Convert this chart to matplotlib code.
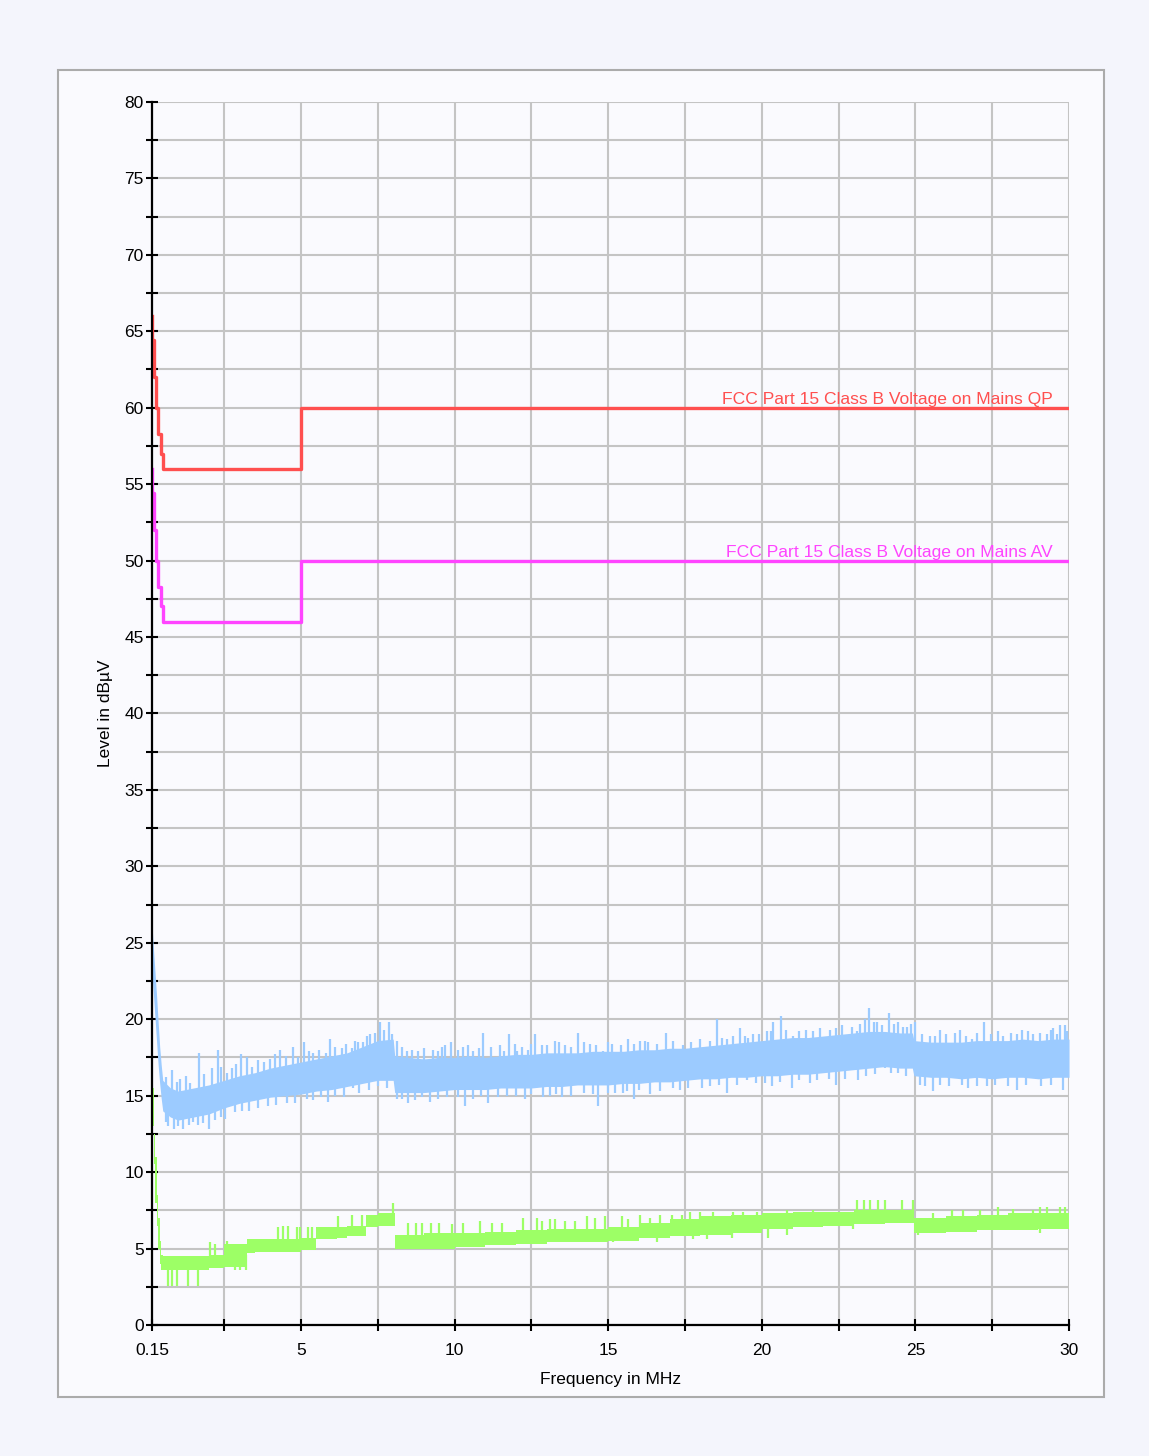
import numpy as np
import matplotlib.pyplot as plt
from matplotlib.patches import Rectangle
from matplotlib.ticker import MultipleLocator, FixedLocator, NullFormatter

plt.rcParams['font.family'] = ['Liberation Sans', 'DejaVu Sans']

# limit lines (step-post)
qp_f = [0.15, 0.16, 0.21, 0.28, 0.35, 0.43, 0.5, 5.0, 30.0]
qp_v = [66.0, 64.4, 62.0, 60.0, 58.3, 57.0, 56.0, 60.0, 60.0]
av_f = [0.15, 0.16, 0.21, 0.28, 0.35, 0.43, 0.5, 5.0, 30.0]
av_v = [56.0, 54.4, 52.0, 50.0, 48.3, 47.0, 46.0, 50.0, 50.0]

# peak trace (blue): body of the noise band
pk_f = [0.15, 0.2, 0.25, 0.3, 0.35, 0.4, 0.45, 0.5, 0.75, 1.0, 1.5, 2.0, 2.5, 3.0, 3.5,
        4.0, 4.5, 5.0, 5.5, 6.0, 6.5, 7.0, 7.5, 8.0, 8.05, 8.5, 9.0, 9.5, 10.0, 10.5, 11.0,
        11.5, 12.0, 12.5, 13.0, 13.5, 14.0, 14.5, 15.0, 15.5, 16.0, 16.5, 17.0, 17.5,
        18.0, 18.5, 19.0, 19.5, 20.0, 20.5, 21.0, 21.5, 22.0, 22.5, 23.0, 23.5, 24.0,
        24.5, 24.9, 24.95, 25.5, 26.0, 26.5, 27.0, 27.5, 28.0, 28.5, 29.0, 29.5, 30.0]
pk_lo = [23.0, 21.5, 20.0, 18.5, 17.0, 15.8, 14.8, 14.0, 13.6, 13.4, 13.6, 13.8, 14.2, 14.5, 14.7,
         14.9, 15.0, 15.1, 15.3, 15.4, 15.6, 15.8, 16.0, 16.0, 15.2, 15.2, 15.2, 15.3, 15.4, 15.4, 15.4,
         15.5, 15.5, 15.5, 15.6, 15.6, 15.7, 15.7, 15.7, 15.8, 15.8, 15.9, 15.9, 16.0,
         16.1, 16.1, 16.2, 16.2, 16.3, 16.3, 16.4, 16.4, 16.5, 16.6, 16.7, 16.8, 16.9,
         16.8, 16.8, 16.3, 16.2, 16.2, 16.1, 16.2, 16.1, 16.2, 16.2, 16.1, 16.2, 16.2]
pk_hi = [26.2, 24.5, 23.0, 21.5, 19.8, 18.2, 17.0, 16.0, 15.5, 15.3, 15.5, 15.7, 16.0, 16.3, 16.5,
         16.8, 17.0, 17.2, 17.4, 17.6, 17.8, 18.2, 18.6, 18.7, 17.6, 17.5, 17.4, 17.5, 17.5, 17.6, 17.5,
         17.6, 17.7, 17.7, 17.8, 17.8, 17.8, 17.9, 17.9, 17.9, 18.0, 18.0, 18.1, 18.1,
         18.2, 18.3, 18.4, 18.5, 18.6, 18.7, 18.8, 18.8, 18.9, 19.0, 19.1, 19.2, 19.2,
         19.1, 19.1, 18.6, 18.5, 18.5, 18.5, 18.6, 18.6, 18.6, 18.7, 18.6, 18.7, 18.7]
# tall peaks above the band
pk_up_f = [0.79, 1.06, 1.69, 2.09, 2.29, 2.74, 3.04, 3.23, 3.61, 4.15, 4.32, 4.75, 5.11, 5.4,
           5.94, 6.32, 6.65, 6.87, 7.03, 7.25, 7.57, 7.88, 8.12, 8.44, 8.82, 9.31, 9.58, 9.87,
           10.28, 10.61, 10.94, 11.48, 11.78, 12.02, 12.4, 12.62, 12.84, 13.27, 13.59, 14.03,
           14.41, 14.84, 15.11, 15.66, 16.04, 16.31, 16.87, 17.45, 18.53, 18.86, 19.29, 19.56,
           19.72, 20.16, 20.38, 20.61, 21.03, 21.68, 22.22, 22.76, 23.09, 23.36, 23.5, 23.74,
           24.15, 24.44, 24.72, 24.99, 25.48, 25.8, 26.45, 26.83, 27.23, 27.86, 28.46, 28.84,
           29.27, 29.49, 29.69, 29.87]
pk_up_v = [16.7, 16.1, 17.8, 16.8, 18.0, 16.8, 17.7, 17.5, 17.3, 17.7, 18.0, 18.2, 18.5, 17.8,
           18.7, 18.1, 18.1, 18.5, 18.5, 19.0, 19.8, 19.8, 18.6, 17.9, 17.9, 18.0, 18.2, 18.5,
           18.2, 17.9, 19.1, 18.3, 19.0, 17.9, 18.0, 19.0, 18.3, 18.6, 18.3, 19.1,
           18.4, 17.9, 18.4, 18.7, 18.6, 18.5, 19.1, 18.3, 20.0, 18.7, 19.4, 18.8,
           19.0, 19.2, 19.8, 20.2, 18.9, 19.2, 19.3, 18.9, 19.2, 20.0, 20.7, 19.8,
           20.4, 19.8, 19.5, 19.8, 18.9, 19.3, 19.3, 18.7, 19.8, 18.9, 19.3, 19.0,
           19.0, 19.4, 19.6, 19.6]
# smaller peaks along the top edge
pk_up2_f = [0.6, 0.95, 1.25, 1.4, 1.85, 2.4, 2.6, 2.9, 3.4, 3.8, 4.0, 4.5, 4.9, 5.25, 5.6,
            5.8, 6.1, 6.45, 6.75, 7.15, 7.4, 7.7, 7.95, 8.3, 8.6, 9.0, 9.45, 9.7, 10.1,
            10.45, 10.8, 11.2, 11.6, 11.95, 12.2, 12.5, 13.0, 13.4, 13.8, 14.2, 14.6, 15.0,
            15.4, 15.85, 16.2, 16.6, 17.1, 17.7, 18.0, 18.3, 18.7, 19.05, 19.45, 19.9, 20.3,
            20.8, 21.2, 21.45, 21.9, 22.4, 22.6, 22.95, 23.2, 23.65, 23.9, 24.3, 24.6, 24.85,
            25.2, 25.65, 26.0, 26.3, 26.65, 27.0, 27.45, 27.7, 28.1, 28.3, 28.65, 29.05, 29.4,
            29.6, 29.95]
pk_up2_v = [16.2, 15.9, 16.3, 15.8, 16.4, 16.9, 16.5, 17.1, 16.9, 17.2, 17.4, 17.6, 17.5, 17.9, 18.0,
            17.8, 18.2, 18.4, 18.6, 18.9, 19.1, 19.3, 19.0, 18.2, 18.0, 18.1, 17.9, 18.3, 18.0,
            18.3, 18.1, 18.2, 17.9, 18.4, 18.2, 18.4, 18.3, 18.5, 18.2, 18.5, 18.3, 18.5,
            18.3, 18.4, 18.6, 18.4, 18.6, 18.5, 18.7, 18.6, 18.8, 18.9, 18.9, 19.0, 19.2,
            19.3, 19.2, 19.3, 19.4, 19.4, 19.6, 19.5, 19.7, 19.8, 19.6, 19.7, 19.5, 19.7,
            19.0, 18.9, 19.0, 19.1, 18.9, 19.1, 19.0, 19.2, 19.1, 19.0, 19.2, 19.1, 19.3,
            19.0, 19.2]
# deep dips below the band
pk_dn_f = [0.68, 0.87, 1.17, 1.66, 2.02, 2.53, 3.07, 3.94, 4.53, 5.18, 5.89, 6.68, 8.12, 8.49,
           9.2, 10.34, 11.1, 12.29, 12.89, 13.49, 14.68, 15.22, 15.47, 15.85, 16.36, 17.34,
           18.04, 18.86, 19.51, 20.32, 20.97, 21.57, 22.42, 23.14, 24.01, 24.44, 25.15, 25.56,
           26.72, 27.32, 28.3, 29.82]
pk_dn_v = [13.0, 12.8, 12.8, 13.1, 12.8, 13.5, 14.0, 14.3, 14.5, 14.8, 14.6, 15.5, 14.8, 14.5,
           14.6, 14.3, 14.5, 14.8, 14.9, 14.9, 14.3, 15.2, 15.2, 14.8, 15.1, 15.4,
           15.5, 15.2, 16.0, 15.6, 15.5, 15.8, 15.7, 16.0, 16.8, 16.5, 15.7, 15.3,
           15.5, 15.6, 15.4, 15.4]
# smaller dips along the bottom edge
pk_dn2_f = [0.6, 1.0, 1.35, 1.5, 1.8, 2.2, 2.4, 2.85, 3.3, 3.6, 4.2, 4.8, 5.4, 5.65, 6.1,
            6.4, 6.9, 7.2, 7.5, 7.8, 8.3, 8.7, 8.95, 9.45, 9.75, 10.1, 10.6, 10.85, 11.4,
            11.7, 12.0, 12.5, 13.1, 13.3, 13.8, 14.2, 14.5, 15.0, 15.6, 16.0, 16.7, 17.1,
            17.6, 18.3, 18.6, 19.2, 19.8, 20.1, 20.6, 21.2, 21.8, 22.2, 22.7, 23.4, 23.7,
            24.2, 24.7, 25.3, 25.8, 26.1, 26.5, 27.0, 27.6, 28.0, 28.6, 29.1, 29.4]
pk_dn2_v = [13.3, 13.0, 13.1, 13.3, 13.2, 13.4, 13.6, 13.9, 14.0, 14.2, 14.4, 14.5, 14.7, 14.9, 15.0,
            14.9, 15.2, 15.4, 15.6, 15.5, 14.8, 14.7, 14.9, 14.8, 14.9, 14.9, 14.8, 15.0, 14.9,
            15.0, 15.0, 15.1, 15.0, 15.1, 15.0, 15.2, 15.1, 15.2, 15.3, 15.4, 15.3, 15.5,
            15.5, 15.6, 15.7, 15.7, 15.8, 15.8, 15.9, 16.0, 16.0, 16.1, 16.1, 16.3, 16.4,
            16.5, 16.3, 15.6, 15.7, 15.6, 15.7, 15.6, 15.7, 15.6, 15.7, 15.6, 15.7]

# average trace (green), step-post
av_tr_f = [0.15, 0.2, 0.25, 0.3, 0.35, 0.4, 0.45, 0.5, 1.0, 1.5, 2.0, 2.5, 3.25, 3.5, 4.0,
           4.5, 5.0, 5.5, 6.17, 6.5, 7.1, 7.5, 8.05, 9.0, 10.0, 11.0, 12.0, 13.0, 14.0, 15.0,
           16.0, 17.0, 18.0, 19.0, 20.0, 21.0, 22.0, 23.0, 24.0, 24.95, 26.0, 27.0, 28.0,
           29.0, 30.0]
av_tr_lo = [13.0, 10.5, 8.0, 6.5, 5.0, 4.0, 3.6, 3.6, 3.6, 3.6, 3.7, 3.8, 4.7, 4.8, 4.8,
            4.8, 4.9, 5.6, 5.7, 5.8, 6.4, 6.5, 5.0, 5.0, 5.1, 5.2, 5.3, 5.4, 5.4, 5.5,
            5.7, 5.8, 5.9, 6.0, 6.3, 6.4, 6.5, 6.6, 6.7, 6.0, 6.1, 6.2, 6.2,
            6.3, 6.3]
av_tr_hi = [15.5, 12.5, 11.0, 8.5, 7.0, 5.5, 4.6, 4.5, 4.5, 4.5, 4.6, 5.3, 5.6, 5.6, 5.6,
            5.6, 5.7, 6.4, 6.4, 6.5, 7.2, 7.3, 5.9, 6.0, 6.0, 6.1, 6.2, 6.3, 6.3, 6.4,
            6.7, 6.9, 7.1, 7.2, 7.3, 7.4, 7.4, 7.5, 7.5, 7.0, 7.1, 7.2, 7.3,
            7.3, 7.3]
av_up_f = [2.05, 2.2, 2.6, 4.26, 4.42, 4.59, 4.86, 4.97, 5.24, 5.35, 6.22, 6.65, 6.98, 7.98,
           8.49, 8.73, 8.93, 9.23, 9.5, 9.93, 10.26, 10.83, 11.23, 11.53, 12.24, 12.69, 12.84,
           13.11, 13.27, 13.59, 13.92, 14.3, 14.57, 14.9, 15.44, 15.65, 16.04, 16.36, 16.69,
           17.07, 17.39, 17.66, 17.99, 18.42, 19.07, 19.4, 19.83, 20.81, 21.68, 23.09, 23.31,
           23.52, 23.79, 24.01, 24.55, 24.93, 25.58, 26.2, 26.56, 27.1, 27.7, 28.19, 28.84,
           29.06, 29.27, 29.69, 29.87]
av_up_v = [5.4, 5.3, 5.5, 6.4, 6.5, 6.5, 6.4, 6.4, 6.4, 6.4, 7.1, 7.2, 7.2, 8.0,
           6.7, 6.7, 6.7, 6.7, 6.7, 6.6, 6.7, 6.8, 6.7, 6.7, 7.0, 7.0, 6.8,
           6.9, 6.9, 6.8, 6.8, 7.1, 7.0, 7.1, 7.1, 6.9, 7.2, 7.0, 7.2,
           7.2, 7.2, 7.4, 7.4, 7.4, 7.4, 7.4, 7.4, 7.5, 7.5, 8.2, 8.2,
           8.2, 8.2, 8.2, 8.2, 8.2, 7.3, 7.5, 7.5, 7.5, 7.7, 7.6, 7.5,
           7.7, 7.7, 7.7, 7.7]
av_dn_f = [0.67, 0.79, 0.95, 1.33, 1.66, 2.85, 3.0, 3.2, 15.17, 16.58, 17.77, 18.2, 19.02,
           20.21, 20.81, 22.98, 25.1, 25.58, 29.06]
av_dn_v = [2.55, 2.55, 2.55, 2.55, 2.55, 3.6, 3.6, 3.6, 5.45, 5.45, 5.6, 5.6, 5.7,
           5.7, 5.9, 6.3, 5.9, 6.0, 6.0]

x_ticks = [0.15, 5, 10, 15, 20, 25, 30]
x_labels = ['0.15', '5', '10', '15', '20', '25', '30']

c_qp = '#ff4f4f'
c_av = '#ff44ff'
c_pk = '#9ccbff'
c_avg = '#9dff66'


def mid_linear(fs, f_body, lo, hi):
    return (np.interp(fs, f_body, lo) + np.interp(fs, f_body, hi)) / 2


def mid_step(fs, f_body, lo, hi):
    idx = np.searchsorted(f_body, fs, side='right') - 1
    idx = np.clip(idx, 0, len(f_body) - 1)
    return (np.array(lo)[idx] + np.array(hi)[idx]) / 2


fig = plt.figure(figsize=(11.49, 14.56), dpi=100)
fig.patch.set_facecolor('#f4f5fc')
fig.patches.append(Rectangle((0.0505, 0.0405), 0.9104, 0.9114, transform=fig.transFigure,
                             facecolor='#fafafe', edgecolor='#ababab', lw=1.5, zorder=-10))

ax = fig.add_axes([0.1323, 0.09, 0.7981, 0.84])
ax.set_facecolor('none')
ax.set_zorder(2)

# noise traces
ax.fill_between(pk_f, pk_lo, pk_hi, color=c_pk, lw=0, zorder=3)
for up_f, up_v in [(pk_up_f, pk_up_v), (pk_up2_f, pk_up2_v)]:
    ax.vlines(up_f, mid_linear(up_f, pk_f, pk_lo, pk_hi), up_v, color=c_pk, lw=1.6, zorder=3)
for dn_f, dn_v in [(pk_dn_f, pk_dn_v), (pk_dn2_f, pk_dn2_v)]:
    ax.vlines(dn_f, dn_v, mid_linear(dn_f, pk_f, pk_lo, pk_hi), color=c_pk, lw=1.6, zorder=3)

ax.fill_between(av_tr_f, av_tr_lo, av_tr_hi, step='post', color=c_avg, lw=0, zorder=3)
ax.vlines(av_up_f, mid_step(av_up_f, av_tr_f, av_tr_lo, av_tr_hi), av_up_v, color=c_avg, lw=1.6, zorder=3)
ax.vlines(av_dn_f, av_dn_v, mid_step(av_dn_f, av_tr_f, av_tr_lo, av_tr_hi), color=c_avg, lw=1.6, zorder=3)

# limit lines
ax.plot(qp_f, qp_v, drawstyle='steps-post', color=c_qp, lw=2.4, zorder=4)
ax.plot(av_f, av_v, drawstyle='steps-post', color=c_av, lw=2.4, zorder=4)
ax.text(29.48, 60.25, 'FCC Part 15 Class B Voltage on Mains QP', color=c_qp,
        ha='right', va='baseline', fontsize=12.6, zorder=5)
ax.text(29.48, 50.25, 'FCC Part 15 Class B Voltage on Mains AV', color=c_av,
        ha='right', va='baseline', fontsize=12.6, zorder=5)

ax.set_xlim(0.15, 30)
ax.set_ylim(0, 80)
ax.xaxis.set_major_locator(FixedLocator(x_ticks))
ax.set_xticklabels(x_labels)
ax.xaxis.set_minor_locator(FixedLocator(np.arange(2.5, 30, 5)))
ax.yaxis.set_major_locator(MultipleLocator(5))
ax.yaxis.set_minor_locator(MultipleLocator(2.5))
ax.yaxis.set_minor_formatter(NullFormatter())

ax.grid(True, which='both', color='#c4c4c4', lw=1.5, zorder=1)
ax.set_axisbelow(True)
for s in ['top', 'right']:
    ax.spines[s].set_visible(False)
for s in ['left', 'bottom']:
    ax.spines[s].set_linewidth(1.6)
    ax.spines[s].set_zorder(6)

ax.tick_params(which='both', direction='inout', length=8, width=1.5, labelsize=12.5, color='black')
ax.tick_params(axis='y', pad=2)
ax.tick_params(axis='x', pad=9)

ax.set_xlabel('Frequency in MHz', fontsize=12.5, labelpad=10)
ax.set_ylabel('Level in dBµV', fontsize=12.5, labelpad=8)

fig.savefig('out.png', dpi=100, facecolor=fig.get_facecolor())
